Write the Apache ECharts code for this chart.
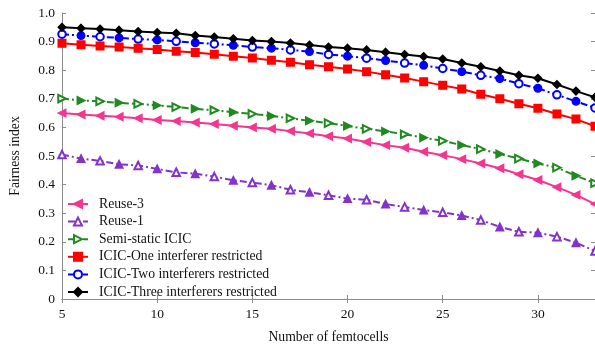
<!DOCTYPE html>
<html><head><meta charset="utf-8">
<script src="https://cdn.jsdelivr.net/npm/echarts@6/dist/echarts.min.js"></script>
<style>html,body{margin:0;padding:0;background:#fff}#c{width:595px;height:349px}</style>
</head><body><div id="c"></div>
<script>
const xValues = [5,6,7,8,9,10,11,12,13,14,15,16,17,18,19,20,21,22,23,24,25,26,27,28,29,30,31,32,33];
const reuse3 = [0.650,0.645,0.641,0.637,0.632,0.626,0.622,0.617,0.612,0.606,0.600,0.595,0.587,0.579,0.569,0.561,0.549,0.538,0.529,0.515,0.503,0.489,0.474,0.457,0.436,0.416,0.391,0.364,0.332];
const reuse1 = [0.505,0.491,0.483,0.471,0.467,0.455,0.443,0.438,0.428,0.415,0.407,0.398,0.382,0.373,0.363,0.351,0.347,0.332,0.322,0.311,0.303,0.292,0.276,0.252,0.235,0.232,0.218,0.197,0.168];
const semiStatic = [0.701,0.694,0.691,0.686,0.682,0.677,0.671,0.665,0.660,0.653,0.647,0.640,0.632,0.623,0.615,0.605,0.595,0.586,0.576,0.564,0.553,0.538,0.524,0.507,0.491,0.474,0.459,0.431,0.405];
const icicOne = [0.894,0.889,0.885,0.881,0.877,0.872,0.866,0.862,0.856,0.849,0.843,0.835,0.828,0.819,0.812,0.804,0.795,0.784,0.773,0.760,0.747,0.734,0.716,0.700,0.683,0.667,0.647,0.629,0.604];
const icicTwo = [0.926,0.921,0.917,0.913,0.909,0.906,0.901,0.896,0.892,0.887,0.881,0.877,0.871,0.865,0.855,0.849,0.842,0.834,0.825,0.817,0.806,0.795,0.782,0.771,0.753,0.737,0.714,0.691,0.668];
const icicThree = [0.950,0.947,0.944,0.940,0.935,0.932,0.929,0.921,0.916,0.910,0.904,0.900,0.895,0.888,0.881,0.877,0.871,0.863,0.855,0.848,0.839,0.825,0.812,0.797,0.782,0.772,0.750,0.727,0.705];
const seriesNames = ['Reuse-3','Reuse-1','Semi-static ICIC','ICIC-One interferer restricted','ICIC-Two interferers restricted','ICIC-Three interferers restricted'];

const FONT = '"Liberation Serif","Times New Roman",serif';
const dashDot = [7,3,2,3];
function mk(name, vals, color, symbol, rotate, dashed, alternate){
  return {
    name, type:'line', color,
    symbol: alternate ? 'empty' + symbol.charAt(0).toUpperCase() + symbol.slice(1) : symbol,
    symbolSize: 7.5, symbolRotate: rotate,
    lineStyle:{color, width:2, type: dashed ? dashDot : 'solid'},
    itemStyle:{color, borderColor:color, borderWidth:1.5},
    data: xValues.map((x,i)=>{
      const o = {value:[x, vals[i]]};
      if (alternate && (x % 2 === 0)) o.symbol = symbol;
      return o;
    }),
    animation:false, z: 3
  };
}
const chart = echarts.init(document.getElementById('c'), null, {renderer:'canvas'});
const axisCol = '#8c8c8c';
chart.setOption({
  backgroundColor:'#fff',
  textStyle:{fontFamily:FONT},
  grid:{left:60, right:0, top:13, bottom:47, containLabel:false},
  legend:{
    orient:'vertical', left:62, top:192, itemWidth:20, itemHeight:10, itemGap:3.6,
    textStyle:{fontFamily:FONT, fontSize:13.7, color:'#111', padding:[0,0,0,6]},
    data: seriesNames
  },
  xAxis:[{
    type:'value', min:5, max:33, interval:5,
    name:'Number of femtocells', nameLocation:'middle', nameGap:31,
    nameTextStyle:{fontFamily:FONT, fontSize:13.7, color:'#111'},
    axisLine:{lineStyle:{color:axisCol, width:1}},
    axisTick:{inside:true, length:4, lineStyle:{color:axisCol}},
    axisLabel:{fontFamily:FONT, fontSize:13.5, color:'#111', margin:8, showMaxLabel:false},
    splitLine:{show:false}
  },{
    type:'value', position:'top', min:5, max:33, interval:5,
    axisLine:{lineStyle:{color:axisCol, width:1}},
    axisTick:{inside:true, length:4, lineStyle:{color:axisCol}},
    axisLabel:{show:false}, splitLine:{show:false}
  }],
  yAxis:[{
    type:'value', min:0, max:1, interval:0.1,
    name:'Fairness index', nameLocation:'middle', nameGap:40,
    nameTextStyle:{fontFamily:FONT, fontSize:13.7, color:'#111'},
    axisLine:{show:true, lineStyle:{color:axisCol, width:1}},
    axisTick:{show:true, inside:true, length:4, lineStyle:{color:axisCol}},
    axisLabel:{fontFamily:FONT, fontSize:13.5, color:'#111', margin:7,
      formatter: v => v === 0 ? '0' : v.toFixed(1)},
    splitLine:{show:false}
  },{
    type:'value', position:'right', min:0, max:1, interval:0.1,
    axisLine:{show:true, lineStyle:{color:axisCol, width:1}},
    axisTick:{show:true, inside:true, length:4, lineStyle:{color:axisCol}},
    axisLabel:{show:false}, splitLine:{show:false}
  }],
  series:[
    mk(seriesNames[0], reuse3, '#f4368e', 'triangle', 90, false, false),
    mk(seriesNames[1], reuse1, '#8433c9', 'triangle', 0, true, true),
    mk(seriesNames[2], semiStatic, '#1f8a1f', 'triangle', -90, true, true),
    mk(seriesNames[3], icicOne, '#ff0000', 'rect', 0, false, false),
    mk(seriesNames[4], icicTwo, '#0000ff', 'circle', 0, true, true),
    mk(seriesNames[5], icicThree, '#000000', 'diamond', 0, false, false)
  ]
});
</script>
</body></html>
